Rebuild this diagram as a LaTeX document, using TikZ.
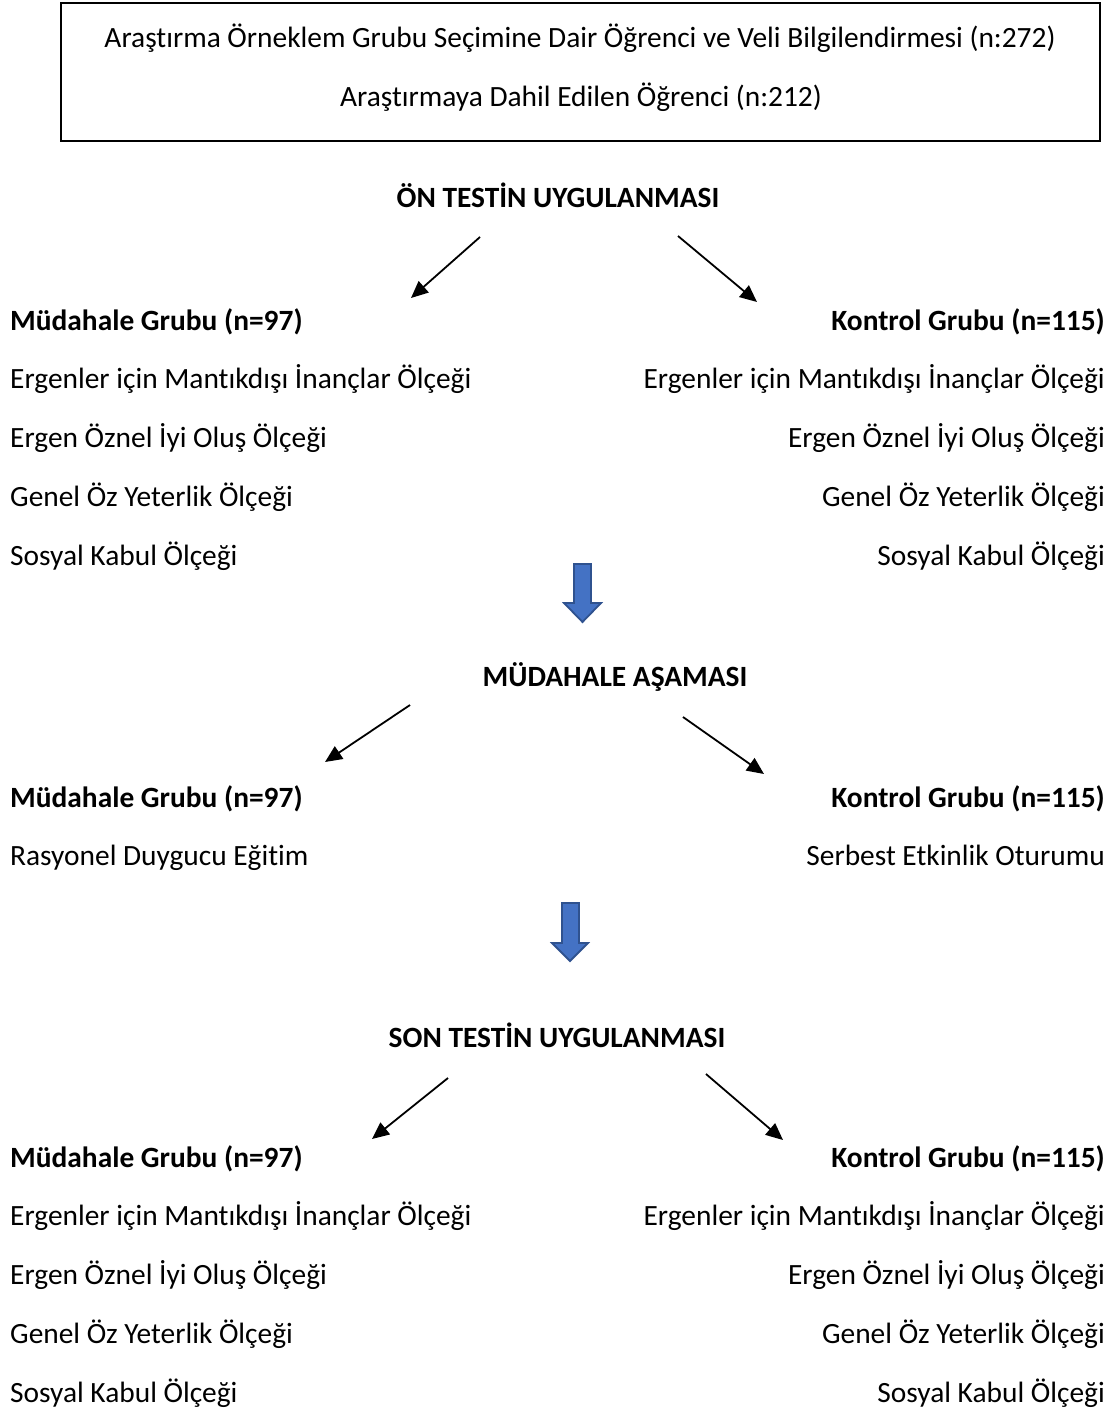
\documentclass[tikz,border=0pt]{standalone}
\usepackage{fontspec}
\setmainfont{Carlito}[Ligatures={NoCommon}]
\usetikzlibrary{arrows.meta}
\definecolor{bluefill}{HTML}{4472C4}
\definecolor{blueedge}{HTML}{2F528F}
\newcommand{\fsz}{\fontsize{29.4}{34}\selectfont}
\tikzset{
  txt/.style={inner sep=0pt, font=\fsz},
  lt/.style={txt, anchor=base west},
  rt/.style={txt, anchor=base east},
  ct/.style={txt, anchor=base},
  hd/.style={txt, anchor=base, font=\fsz\bfseries},
  bl/.style={font=\fsz\bfseries},
  arr/.style={line width=1.8pt, -{Triangle[length=17pt,width=15pt]}},
  bluearr/.style={fill=bluefill, draw=blueedge, line width=1.8pt, line join=miter}
}
\begin{document}
\begin{tikzpicture}[x=1pt,y=-1pt]
\useasboundingbox (0,0) rectangle (1118,1414);
% top box
\draw[line width=1.6pt] (61,3) rectangle (1100,141);
\node[ct] (b1) at (580,47) {Araştırma Örneklem Grubu Seçimine Dair Öğrenci ve Veli Bilgilendirmesi (n:272)};
\node[ct] (b2) at (581,106) {Araştırmaya Dahil Edilen Öğrenci (n:212)};
% block 1
\node[hd] (h1) at (558,207) {ÖN TESTİN UYGULANMASI};
\coordinate (a1s) at (480,237); \coordinate (a1e) at (411,298);
\coordinate (a2s) at (678,236); \coordinate (a2e) at (757,302);
\draw[arr] (a1s) -- (a1e);
\draw[arr] (a2s) -- (a2e);
\node[lt, bl] (m1) at (10,330) {Müdahale Grubu (n=97)};
\node[rt, bl] (k1) at (1105,330) {Kontrol Grubu (n=115)};
\node[lt] (m1a) at (10,388) {Ergenler için Mantıkdışı İnançlar Ölçeği};
\node[lt] (m1b) at (10,447) {Ergen Öznel İyi Oluş Ölçeği};
\node[lt] (m1c) at (10,506) {Genel Öz Yeterlik Ölçeği};
\node[lt] (m1d) at (10,565) {Sosyal Kabul Ölçeği};
\node[rt] (k1a) at (1105,388) {Ergenler için Mantıkdışı İnançlar Ölçeği};
\node[rt] (k1b) at (1105,447) {Ergen Öznel İyi Oluş Ölçeği};
\node[rt] (k1c) at (1105,506) {Genel Öz Yeterlik Ölçeği};
\node[rt] (k1d) at (1105,565) {Sosyal Kabul Ölçeği};
% blue arrow 1
\draw[bluearr] (574,564) -- (591,564) -- (591,603) -- (601,603) -- (582.5,622) -- (564,603) -- (574,603) -- cycle;
% block 2
\node[hd] (h2) at (615,686) {MÜDAHALE AŞAMASI};
\coordinate (a3s) at (410,705); \coordinate (a3e) at (325,762);
\coordinate (a4s) at (683,717); \coordinate (a4e) at (764,774);
\draw[arr] (a3s) -- (a3e);
\draw[arr] (a4s) -- (a4e);
\node[lt, bl] (m2) at (10,807) {Müdahale Grubu (n=97)};
\node[rt, bl] (k2) at (1105,807) {Kontrol Grubu (n=115)};
\node[lt] (m2a) at (10,865) {Rasyonel Duygucu Eğitim};
\node[rt] (k2a) at (1105,865) {Serbest Etkinlik Oturumu};
% blue arrow 2
\draw[bluearr] (562,903) -- (579,903) -- (579,943) -- (588,943) -- (570,961) -- (552,943) -- (562,943) -- cycle;
% block 3
\node[hd] (h3) at (557,1047) {SON TESTİN UYGULANMASI};
\coordinate (a5s) at (448,1078); \coordinate (a5e) at (372,1139);
\coordinate (a6s) at (706,1074); \coordinate (a6e) at (783,1140);
\draw[arr] (a5s) -- (a5e);
\draw[arr] (a6s) -- (a6e);
\node[lt, bl] (m3) at (10,1167) {Müdahale Grubu (n=97)};
\node[rt, bl] (k3) at (1105,1167) {Kontrol Grubu (n=115)};
\node[lt] (m3a) at (10,1225) {Ergenler için Mantıkdışı İnançlar Ölçeği};
\node[lt] (m3b) at (10,1284) {Ergen Öznel İyi Oluş Ölçeği};
\node[lt] (m3c) at (10,1343) {Genel Öz Yeterlik Ölçeği};
\node[lt] (m3d) at (10,1402) {Sosyal Kabul Ölçeği};
\node[rt] (k3a) at (1105,1225) {Ergenler için Mantıkdışı İnançlar Ölçeği};
\node[rt] (k3b) at (1105,1284) {Ergen Öznel İyi Oluş Ölçeği};
\node[rt] (k3c) at (1105,1343) {Genel Öz Yeterlik Ölçeği};
\node[rt] (k3d) at (1105,1402) {Sosyal Kabul Ölçeği};
\end{tikzpicture}
\end{document}
